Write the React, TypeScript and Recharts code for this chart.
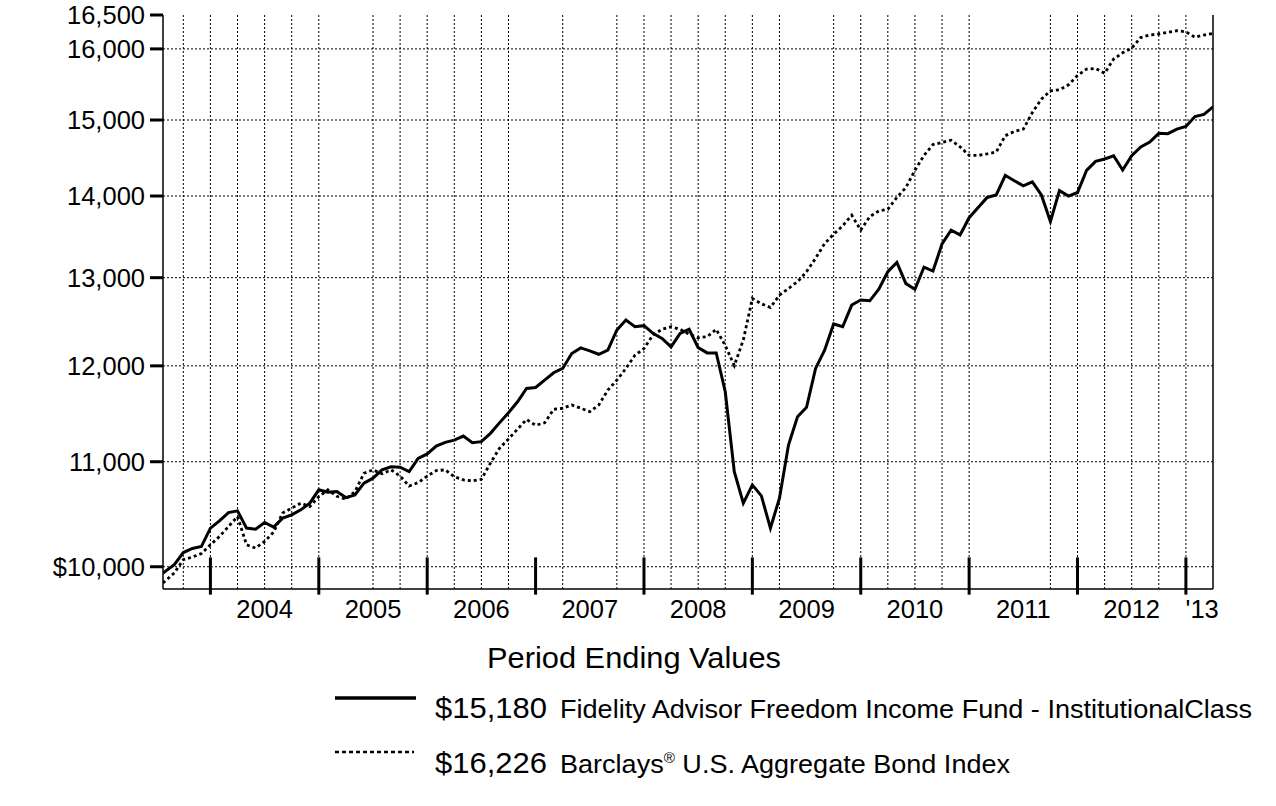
import {
  CartesianGrid,
  Line,
  LineChart,
  ReferenceLine,
  XAxis,
  YAxis,
} from "recharts";

// x is measured in months from Jan 1, 2003 (month-end points)
const INCEPTION_MONTH = 6.75; // Jul 24, 2003
const END_MONTH = 123; // Mar 31, 2013

// Fidelity Advisor Freedom Income Fund - Institutional Class
// 2003 starts with the inception value, then Aug..Dec
const fund2003 = [9943, 10018, 10130, 10167, 10185, 10357];
const fund2004 = [10425, 10504, 10520, 10357, 10347, 10410, 10366, 10451, 10482, 10530, 10594, 10723];
const fund2005 = [10700, 10706, 10648, 10674, 10788, 10837, 10919, 10950, 10945, 10901, 11034, 11078];
const fund2006 = [11157, 11195, 11218, 11259, 11192, 11202, 11287, 11395, 11500, 11615, 11757, 11767];
const fund2007 = [11846, 11925, 11972, 12135, 12197, 12164, 12127, 12172, 12397, 12510, 12434, 12446];
const fund2008 = [12359, 12302, 12208, 12359, 12405, 12200, 12142, 12142, 11721, 10901, 10594, 10771];
const fund2009 = [10664, 10357, 10642, 11168, 11458, 11557, 11972, 12172, 12465, 12434, 12681, 12739];
const fund2010 = [12730, 12865, 13070, 13180, 12930, 12863, 13125, 13078, 13405, 13573, 13515, 13727];
const fund2011 = [13856, 13982, 14014, 14266, 14195, 14131, 14182, 14014, 13680, 14069, 13999, 14045];
const fund2012 = [14330, 14447, 14478, 14521, 14334, 14521, 14637, 14703, 14820, 14815, 14876, 14912];
const fund2013 = [15047, 15077, 15180];

// Barclays U.S. Aggregate Bond Index
const index2003 = [9854, 9943, 10064, 10088, 10120, 10201];
const index2004 = [10278, 10372, 10466, 10201, 10171, 10232, 10320, 10500, 10546, 10594, 10561, 10657];
const index2005 = [10723, 10660, 10632, 10706, 10885, 10919, 10880, 10919, 10858, 10760, 10794, 10858];
const index2006 = [10912, 10919, 10851, 10820, 10810, 10826, 10986, 11135, 11229, 11330, 11430, 11370];
const index2007 = [11395, 11536, 11547, 11582, 11547, 11511, 11582, 11739, 11846, 11972, 12116, 12190];
const index2008 = [12341, 12405, 12434, 12405, 12350, 12310, 12322, 12405, 12224, 12003, 12286, 12758];
const index2009 = [12695, 12653, 12795, 12874, 12952, 13070, 13231, 13409, 13523, 13626, 13758, 13574];
const index2010 = [13740, 13812, 13833, 13982, 14109, 14330, 14525, 14669, 14698, 14727, 14640, 14525];
const index2011 = [14525, 14546, 14570, 14788, 14844, 14876, 15102, 15287, 15403, 15417, 15487, 15617];
const index2012 = [15709, 15719, 15650, 15853, 15944, 16011, 16166, 16203, 16218, 16243, 16266, 16250];
const index2013 = [16170, 16203, 16226];

const fundYears = [fund2003, fund2004, fund2005, fund2006, fund2007, fund2008, fund2009, fund2010, fund2011, fund2012, fund2013];
const indexYears = [index2003, index2004, index2005, index2006, index2007, index2008, index2009, index2010, index2011, index2012, index2013];

const yTicks = [10000, 11000, 12000, 13000, 14000, 15000, 16000, 16500];
const yGridValues = [10000, 11000, 12000, 13000, 14000, 15000, 16000];

const yearLabels = ["2004", "2005", "2006", "2007", "2008", "2009", "2010", "2011", "2012", "'13"];
const yearLabelMonths = [18, 30, 42, 54, 66, 78, 90, 102, 114, 121.8];
const yearStartMonths = [12, 24, 36, 48, 60, 72, 84, 96, 108, 120];
const quarterGridMonths = [
  9, 12, 15, 18, 21, 24, 30, 33, 36, 39, 42, 45, 51, 57, 60, 63, 66, 69, 72, 75,
  81, 84, 87, 90, 93, 96, 105, 108, 111, 114, 117, 120,
];

const FONT = '"Liberation Sans", Arial, Helvetica, sans-serif';

interface Row {
  t: number;
  fund: number;
  index: number;
}

function buildRows(): Row[] {
  const rows: Row[] = [];
  fundYears.forEach((fund, i) => {
    const index = indexYears[i];
    const firstMonth = i === 0 ? 7 : 1;
    fund.forEach((value, j) => {
      const t = i === 0 && j === 0 ? INCEPTION_MONTH : i * 12 + firstMonth + j;
      rows.push({ t, fund: value, index: index[j] });
    });
  });
  return rows;
}

const rows = buildRows();

function formatY(value: number): string {
  const text = value.toLocaleString("en-US");
  return value === 10000 ? `$${text}` : text;
}

function formatX(value: number): string {
  const i = yearLabelMonths.indexOf(value);
  return i >= 0 ? yearLabels[i] : "";
}

export default function App() {
  return (
    <div
      style={{
        position: "absolute",
        left: 0,
        top: 0,
        width: 1276,
        height: 806,
        background: "#fff",
        fontFamily: FONT,
      }}
    >
      <LineChart
        width={1276}
        height={640}
        data={rows}
        margin={{ top: 15, right: 63, bottom: 11, left: 0 }}
      >
        <CartesianGrid
          stroke="#000"
          strokeWidth={1}
          strokeDasharray="2 2"
          verticalValues={quarterGridMonths}
          horizontalValues={yGridValues}
        />
        <XAxis
          dataKey="t"
          type="number"
          domain={[INCEPTION_MONTH, END_MONTH]}
          allowDataOverflow
          ticks={yearLabelMonths}
          tickFormatter={formatX}
          tickLine={false}
          tickSize={6}
          tickMargin={5}
          height={40}
          interval={0}
          axisLine={{ stroke: "#000", strokeWidth: 1.5 }}
          tick={{ fill: "#000", fontSize: 25.5, fontFamily: FONT }}
        />
        <YAxis
          scale="log"
          type="number"
          domain={[9800, 16500]}
          allowDataOverflow
          ticks={yTicks}
          tickFormatter={formatY}
          width={163}
          tickSize={13}
          tickMargin={5}
          interval={0}
          axisLine={{ stroke: "#000", strokeWidth: 1.5 }}
          tickLine={{ stroke: "#000", strokeWidth: 3 }}
          tick={{ fill: "#000", fontSize: 25.5, fontFamily: FONT }}
        />
        <ReferenceLine x={END_MONTH} stroke="#000" strokeWidth={1.5} />
        {yearStartMonths.map((m) => (
          <ReferenceLine
            key={m}
            segment={[
              { x: m, y: 9750 },
              { x: m, y: 10085 },
            ]}
            ifOverflow="visible"
            stroke="#000"
            strokeWidth={3}
          />
        ))}
        <Line
          type="linear"
          dataKey="index"
          stroke="#000"
          strokeWidth={2.8}
          strokeDasharray="3 3"
          dot={false}
          isAnimationActive={false}
        />
        <Line
          type="linear"
          dataKey="fund"
          stroke="#000"
          strokeWidth={3}
          dot={false}
          isAnimationActive={false}
        />
      </LineChart>

      <svg
        width={1276}
        height={166}
        style={{ position: "absolute", left: 0, top: 640 }}
        fontFamily={FONT}
      >
        <text
          x={634}
          y={28}
          textAnchor="middle"
          fontSize={30}
          fill="#000"
          textLength={294}
          lengthAdjust="spacingAndGlyphs"
        >
          Period Ending Values
        </text>

        <line x1={335} x2={416} y1={58} y2={58} stroke="#000" strokeWidth={3.5} />
        <text
          x={435}
          y={78}
          fontSize={30}
          fill="#000"
          textLength={112}
          lengthAdjust="spacingAndGlyphs"
        >
          $15,180
        </text>
        <text
          x={560}
          y={78}
          fontSize={25}
          fill="#000"
          textLength={692}
          lengthAdjust="spacingAndGlyphs"
        >
          Fidelity Advisor Freedom Income Fund -  InstitutionalClass
        </text>

        <line
          x1={335}
          x2={414}
          y1={112}
          y2={112}
          stroke="#000"
          strokeWidth={2.5}
          strokeDasharray="4 3"
        />
        <text
          x={435}
          y={133}
          fontSize={30}
          fill="#000"
          textLength={112}
          lengthAdjust="spacingAndGlyphs"
        >
          $16,226
        </text>
        <text
          x={560}
          y={133}
          fontSize={25}
          fill="#000"
          textLength={450}
          lengthAdjust="spacingAndGlyphs"
        >
          Barclays
          <tspan fontSize={14} dy={-10}>
            ®
          </tspan>
          <tspan dy={10}> U.S. Aggregate Bond Index</tspan>
        </text>
      </svg>
    </div>
  );
}
